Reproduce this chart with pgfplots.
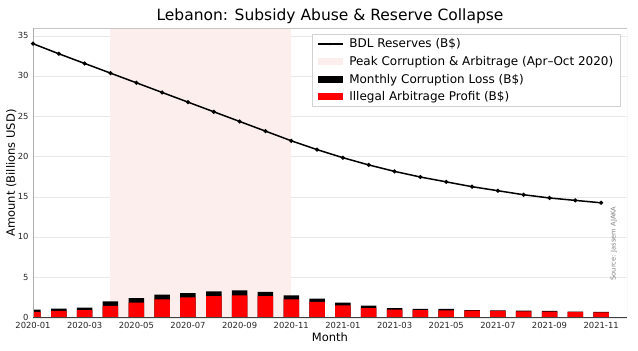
\documentclass[border=0pt]{standalone}
\usepackage{fontspec}
\setmainfont{DejaVu Sans}
\usepackage{pgfplots}
\usepackage{pgfplotstable}
\pgfplotsset{compat=1.18}
\definecolor{shade}{RGB}{253,238,238}
\definecolor{gridc}{RGB}{232,232,232}

\pgfplotstableread{
m red loss reserves
0 0.75 0.28 34.05
1 0.87 0.29 32.8
2 0.99 0.29 31.6
3 1.49 0.58 30.4
4 1.90 0.58 29.2
5 2.32 0.58 28.0
6 2.57 0.53 26.8
7 2.73 0.58 25.6
8 2.82 0.62 24.4
9 2.73 0.50 23.2
10 2.32 0.50 22.0
11 1.99 0.41 20.9
12 1.57 0.33 19.9
13 1.24 0.29 19.0
14 1.04 0.20 18.2
15 0.99 0.13 17.5
16 0.95 0.17 16.9
17 0.91 0.08 16.3
18 0.87 0.08 15.8
19 0.83 0.08 15.3
20 0.79 0.08 14.9
21 0.75 0.04 14.6
22 0.70 0.05 14.3
}\datatable

\pgfplotstableread{
x y
3 36
10 36
}\shadetable

\begin{document}
\begin{tikzpicture}[x=1pt,y=1pt]
\path[use as bounding box] (-33,-33) rectangle (605,318);
\begin{axis}[
  at={(0,0)}, anchor=south west,
  scale only axis, width=594pt, height=290pt,
  xmin=0, xmax=23, ymin=0, ymax=36,
  xtick={0,2,4,6,8,10,12,14,16,18,20,22},
  xticklabels={2020-01,2020-03,2020-05,2020-07,2020-09,2020-11,2021-01,2021-03,2021-05,2021-07,2021-09,2021-11},
  ytick={0,5,10,15,20,25,30,35},
  major tick length=0pt,
  axis line style={draw=none},
  ymajorgrids, grid style={gridc, line width=0.8pt},
  /pgf/number format/assume math mode=true,
  tick label style={font=\fontsize{8.4}{10}\selectfont, text=black!85},
  xticklabel style={anchor=base, yshift=-10.5pt},
  yticklabel style={anchor=base east, xshift=-1pt, yshift=-2.5pt},
  xlabel={Month}, ylabel={Amount (Billions USD)},
  label style={font=\fontsize{11.5}{13}\selectfont},
  xlabel style={at={(0.5,0)}, anchor=base, yshift=-23.5pt},
  ylabel style={at={(0,0.5)}, anchor=base, rotate=0, yshift=18pt},
  title={Lebanon: Subsidy Abuse \& Reserve Collapse},
  title style={at={(0.5,1)}, anchor=base, yshift=2pt, font=\fontsize{15.5}{17}\selectfont},
  legend style={at={(1,1)}, anchor=north east, xshift=-7pt, yshift=-6pt,
    draw=gray!35, fill=white,
    font=\fontsize{12}{14}\selectfont, row sep=3pt, inner xsep=4.5pt, inner ysep=2.5pt,
    /tikz/every odd column/.append style={column sep=4pt}},
  legend cell align=left,
]
% shaded peak period
\addplot[fill=shade, draw=none, forget plot] table[x=x,y=y] {\shadetable} \closedcycle;
% bars: total (black) then red over the lower part
\addplot[ybar, bar width=0.6, bar shift=0, fill=black, draw=none, forget plot]
  table[x=m, y expr=\thisrow{red}+\thisrow{loss}] {\datatable};
\addplot[ybar, bar width=0.6, bar shift=0, fill=red, draw=none, forget plot]
  table[x=m, y=red] {\datatable};
% reserves line
\addplot[black, line width=1.5pt, mark=*, mark size=1.2pt, forget plot]
  table[x=m, y=reserves] {\datatable};

\addlegendimage{legend image code/.code={
  \path[draw=black, line width=1.5pt] (0pt,0pt) -- (25pt,0pt);
  \path[fill=black, draw=none] (12.5pt,0pt) circle (1.3pt);}}
\addlegendentry{BDL Reserves (B\$)}
\addlegendimage{legend image code/.code={\path[fill=shade, draw=none] (0pt,-3.5pt) rectangle (25pt,3.5pt);}}
\addlegendentry{Peak Corruption \& Arbitrage (Apr–Oct 2020)}
\addlegendimage{legend image code/.code={\path[fill=black, draw=none] (0pt,-3.5pt) rectangle (25pt,3.5pt);}}
\addlegendentry{Monthly Corruption Loss (B\$)}
\addlegendimage{legend image code/.code={\path[fill=red, draw=none] (0pt,-3.5pt) rectangle (25pt,3.5pt);}}
\addlegendentry{Illegal Arbitrage Profit (B\$)}

\node[rotate=90, font=\fontsize{6.7}{8}\selectfont, text=gray] at (rel axis cs:0.978,0.257) {Source: Jassem AJAKA};
\draw[gray!45, line width=0.8pt] (rel axis cs:0,1) -- (rel axis cs:1,1) -- (rel axis cs:1,0);
\draw[gray!65, line width=1.5pt] (rel axis cs:0,0) -- (rel axis cs:0,1);
\draw[black!75, line width=1pt] (rel axis cs:0,0) -- (rel axis cs:1,0);
\end{axis}
\end{tikzpicture}
\end{document}
